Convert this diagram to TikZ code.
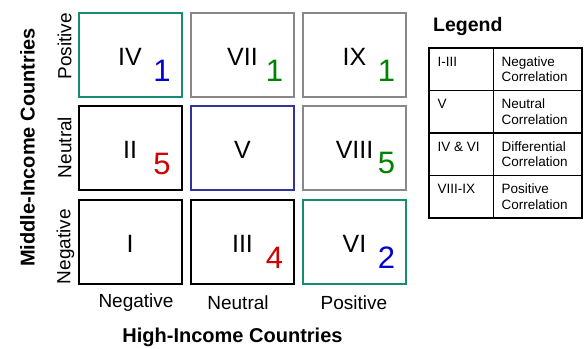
\documentclass[tikz,border=0pt]{standalone}
\usepackage{fontspec}
\setmainfont{Liberation Sans}
\definecolor{tealc}{RGB}{24,140,112}
\definecolor{grayc}{RGB}{136,136,136}
\definecolor{bluebox}{RGB}{51,51,160}
\definecolor{numblue}{RGB}{0,0,210}
\definecolor{numgreen}{RGB}{0,130,0}
\definecolor{numred}{RGB}{210,0,0}
\tikzset{
  cell/.style={draw, line width=2pt, minimum width=103pt, minimum height=84pt, inner sep=0pt, fill=white},
  roman/.style={font=\fontsize{25}{25}\selectfont, inner sep=0pt},
  count/.style={font=\fontsize{31}{31}\selectfont, inner sep=0pt},
  axislab/.style={font=\fontsize{19}{19}\selectfont, inner sep=0pt},
  axistitle/.style={font=\fontsize{20}{20}\selectfont\bfseries, inner sep=0pt},
  legtxt/.style={font=\fontsize{13.5}{15.5}\selectfont, inner sep=0pt, anchor=base west, align=left},
  tabline/.style={line width=1.5pt},
}
\begin{document}
\begin{tikzpicture}[x=1pt,y=-1pt]
\useasboundingbox (0,0) rectangle (585,348);
% cells
\node[cell, draw=tealc]   (c4) at (130,54.5) {};
\node[cell, draw=grayc]   (c7) at (242.5,54.5) {};
\node[cell, draw=grayc]   (c9) at (354.5,54.5) {};
\node[cell, draw=black]   (c2) at (130,148) {};
\node[cell, draw=bluebox] (c5) at (242.5,148) {};
\node[cell, draw=grayc]   (c8) at (354.5,148) {};
\node[cell, draw=black]   (c1) at (130,242) {};
\node[cell, draw=black]   (c3) at (242.5,242) {};
\node[cell, draw=tealc]   (c6) at (354.5,242) {};
% roman numerals
\node[roman] (r4) at ([yshift=-2pt]c4.center) {IV};
\node[roman] (r7) at ([yshift=-2pt]c7.center) {VII};
\node[roman] (r9) at ([yshift=-2pt]c9.center) {IX};
\node[roman] (r2) at ([yshift=-2pt]c2.center) {II};
\node[roman] (r5) at ([yshift=-2pt]c5.center) {V};
\node[roman] (r8) at ([yshift=-2pt]c8.center) {VIII};
\node[roman] (r1) at ([yshift=-2pt]c1.center) {I};
\node[roman] (r3) at ([yshift=-2pt]c3.center) {III};
\node[roman] (r6) at ([yshift=-2pt]c6.center) {VI};
% counts
\node[count, text=numblue]  (n4) at ([xshift=32pt,yshift=-16pt]c4.center) {1};
\node[count, text=numgreen] (n7) at ([xshift=32pt,yshift=-16pt]c7.center) {1};
\node[count, text=numgreen] (n9) at ([xshift=32pt,yshift=-16pt]c9.center) {1};
\node[count, text=numred]   (n2) at ([xshift=32pt,yshift=-16pt]c2.center) {5};
\node[count, text=numgreen] (n8) at ([xshift=32pt,yshift=-15pt]c8.center) {5};
\node[count, text=numred]   (n3) at ([xshift=32pt,yshift=-16pt]c3.center) {4};
\node[count, text=numblue]  (n6) at ([xshift=32pt,yshift=-16pt]c6.center) {2};
% axis labels
\node[axislab, rotate=90] (ypos) at (64.5,46.3) {Positive};
\node[axislab, rotate=90] (yneu) at (64.5,147.5) {Neutral};
\node[axislab, rotate=90] (yneg) at (65.5,246.5) {Negative};
\node[axislab] (xneg) at (136,303) {Negative};
\node[axislab] (xneu) at (238,303) {Neutral};
\node[axislab] (xpos) at (354,303) {Positive};
\node[axistitle, rotate=90] (ytitle) at (27.5,147.5) {Middle-Income Countries};
\node[axistitle] (xtitle) at (232.5,337.5) {High-Income Countries};
% legend
\node[font=\fontsize{19.5}{19.5}\selectfont\bfseries, inner sep=0pt, anchor=base west] (legtitle) at (433,31.5) {Legend};
\draw[tabline] (429,48) rectangle (582,218);
\draw[tabline] (493.5,48) -- (493.5,218);
\draw[tabline] (429,90.5) -- (582,90.5);
\draw[tabline] (429,133) -- (582,133);
\draw[tabline] (429,175.5) -- (582,175.5);
\node[legtxt] (k1) at (437.5,66) {I-III};
\node[legtxt] (v1) at (501.5,81.5) {Negative\\Correlation};
\node[legtxt] (k2) at (437.5,108.5) {V};
\node[legtxt] (v2) at (501.5,124) {Neutral\\Correlation};
\node[legtxt] (k3) at (437.5,151) {IV \& VI};
\node[legtxt] (v3) at (501.5,166.5) {Differential\\Correlation};
\node[legtxt] (k4) at (437.5,193.5) {VIII-IX};
\node[legtxt] (v4) at (501.5,209) {Positive\\Correlation};
\end{tikzpicture}
\end{document}
